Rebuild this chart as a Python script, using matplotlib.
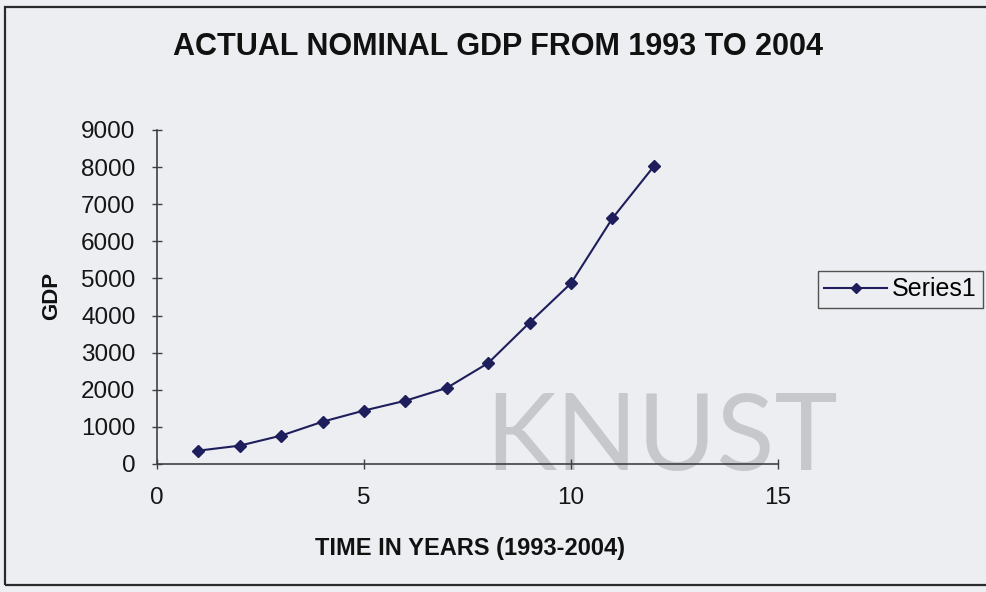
import matplotlib
matplotlib.use("Agg")
import matplotlib.pyplot as plt
from matplotlib.patches import Rectangle

plt.rcParams['font.family'] = ['Liberation Sans', 'DejaVu Sans']

# Nominal GDP, years 1..12 correspond to 1993..2004
years = [1, 2, 3, 4, 5, 6, 7, 8, 9, 10, 11, 12]
gdp = [360, 495, 765, 1140, 1440, 1705, 2050, 2720, 3810, 4870, 6620, 8020]

x_ticks = [0, 5, 10, 15]
y_ticks = [0, 1000, 2000, 3000, 4000, 5000, 6000, 7000, 8000, 9000]

title = "ACTUAL NOMINAL GDP FROM 1993 TO 2004"
x_label = "TIME IN YEARS (1993-2004)"
y_label = "GDP"
series_name = "Series1"

bg = "#eceef1"
line_col = "#1e1e5c"

fig = plt.figure(figsize=(9.86, 5.92), dpi=100, facecolor=bg)

# chart frame
fig.patches.append(Rectangle((5 / 986, 1 - 585 / 592), 1.0, (585 - 7) / 592,
                             transform=fig.transFigure, fill=False,
                             edgecolor="#2a2a2a", linewidth=1.6, zorder=0))

# watermark
fig.text(662 / 986, 1 - 470 / 592, "KNUST", fontsize=77, family="Lato",
         fontweight="normal", color="#c7c8cc", ha="center", va="baseline",
         zorder=0)

ax = fig.add_axes([157 / 986, 1 - 464 / 592, (778 - 157) / 986, (464 - 130) / 592])
ax.set_facecolor("none")
ax.set_zorder(2)

ax.plot(years, gdp, color=line_col, linewidth=1.5, marker="D", markersize=6.5,
        markerfacecolor=line_col, markeredgecolor=line_col, label=series_name)

ax.set_xlim(0, 15)
ax.set_ylim(0, 9000)
ax.set_xticks(x_ticks)
ax.set_yticks(y_ticks)

for s in ("top", "right"):
    ax.spines[s].set_visible(False)
for s in ("left", "bottom"):
    ax.spines[s].set_color("#404040")
    ax.spines[s].set_linewidth(1.2)

ax.tick_params(axis="both", direction="inout", length=7, width=1.0,
               color="#404040", labelsize=17.5, labelcolor="#151515")
ax.tick_params(axis="x", pad=13)
ax.tick_params(axis="y", pad=12)

ax.set_xlabel(x_label, fontsize=17, fontweight="bold", color="#111111")
ax.set_ylabel(y_label, fontsize=16, fontweight="bold", color="#111111")
fig.canvas.draw()
ax.xaxis.set_label_coords(470 / 986, 1 - 548 / 592, transform=fig.transFigure)
ax.yaxis.set_label_coords(52 / 986, 1 - 296 / 592, transform=fig.transFigure)
ax.xaxis.label.set_va("center")
ax.yaxis.label.set_va("center")

fig.text(498 / 986, 1 - 47 / 592, title, fontsize=22, fontweight="bold",
         color="#111111", ha="center", va="center")

leg = ax.legend(loc="upper left", bbox_to_anchor=(818 / 986, 1 - 271 / 592),
                bbox_transform=fig.transFigure, fontsize=18, frameon=True,
                fancybox=False, borderpad=0.25, handlelength=2.5,
                handletextpad=0.2, borderaxespad=0, markerscale=0.8)
leg.get_frame().set_edgecolor("#2a2a2a")
leg.get_frame().set_facecolor(bg)
leg.get_frame().set_linewidth(1.0)

fig.savefig("out.png", dpi=100, facecolor=bg)
